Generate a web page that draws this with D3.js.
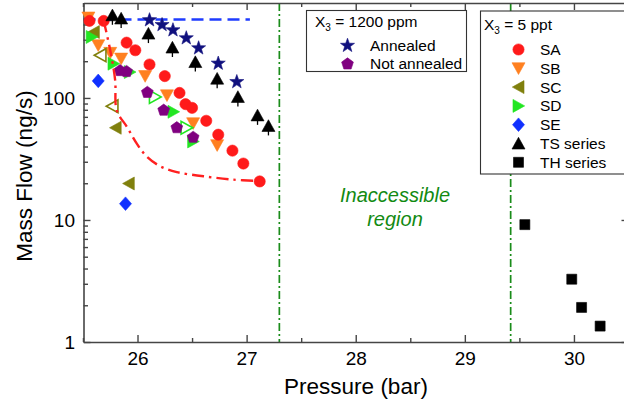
<!DOCTYPE html>
<html>
<head>
<meta charset="utf-8">
<script src="https://cdn.jsdelivr.net/npm/d3@7"></script>
<style>
  html, body { margin: 0; padding: 0; background: #fff; }
  svg { display: block; font-family: "Liberation Sans", Arial, sans-serif; }
</style>
</head>
<body>
<svg id="chart" width="624" height="405"></svg>
<script>
// ---- data: pressure (bar) / mass flow (ng/s) ----
const pressureTicks = [26, 27, 28, 29, 30];
const pressureMinor = [25.5, 26.5, 27.5, 28.5, 29.5, 30.5];
const flowTicks = [1, 10, 100];
const flowMinor = [2, 3, 4, 5, 6, 7, 8, 9, 20, 30, 40, 50, 60, 70, 80, 90, 200, 300, 400, 500];

// X3 = 5 ppt samples
const saP = [25.56, 25.69, 25.90, 25.98, 26.11, 26.25, 26.385, 26.44, 26.50, 26.63, 26.74, 26.87, 26.97, 27.12];
const saV = [428, 428, 284, 246, 188, 151, 110, 89, 83, 65, 50, 37, 29, 20.7];

const sbP = [25.55, 25.64, 25.75, 25.85, 26.07, 26.27, 26.51, 26.73];
const sbV = [456, 270, 234, 210, 151, 105, 62, 41];

const scP = [25.60, 25.80, 25.92];
const scV = [347, 57, 19.9];
const scOpenP = [25.66, 25.77];
const scOpenV = [224, 85.5];

const sdP = [25.58, 25.78, 25.93, 26.33, 26.51];
const sdV = [316, 191, 163, 77, 44];
const sdOpenP = [26.16, 26.45];
const sdOpenV = [102, 57];

const seP = [25.64, 25.89];
const seV = [138, 13.6];

const tsP = [25.77, 25.85, 26.10, 26.32, 26.53, 26.73, 26.92, 27.10, 27.20];
const tsV = [476, 448, 337, 259, 197, 144, 102, 72, 59];

const thP = [29.55, 29.98, 30.07, 30.24];
const thV = [9.16, 3.27, 1.92, 1.35];

// X3 = 1200 ppm samples
const annealedP = [26.11, 26.225, 26.325, 26.447, 26.56, 26.74, 26.91];
const annealedV = [440, 402, 364, 313, 259, 194, 137];
const notAnnealedP = [25.84, 25.90, 26.09, 26.24, 26.36, 26.51];
const notAnnealedV = [169, 166, 112, 80, 57.5, 48];

// reference curves
const annealedLevelP = [25.505, 27.03];
const annealedLevelV = [440, 440];
const fitP = [25.69, 25.75, 25.795, 25.81, 25.903, 25.995, 26.086, 26.21, 26.36, 26.605, 26.88, 27.095];
const fitV = [430, 246, 140, 79, 58, 42, 33, 27.5, 24.7, 22.8, 21.4, 20.9];
const boundaryP = [27.3, 29.42];

const zip = (a, b) => a.map((d, i) => [d, b[i]]);

// ---- marker shapes ----
const S = 6.5;
const shapes = {
  circle: "M5.6,0A5.6,5.6 0 1,1 -5.6,0A5.6,5.6 0 1,1 5.6,0Z",
  down: `M${-S},${-0.85*S}L${S},${-0.85*S}L0,${0.95*S}Z`,
  up: `M0,${-0.95*S}L${S},${0.85*S}L${-S},${0.85*S}Z`,
  left: `M${-0.95*S},0L${0.85*S},${-S}L${0.85*S},${S}Z`,
  right: `M${0.95*S},0L${-0.85*S},${-S}L${-0.85*S},${S}Z`,
  diamond: "M0,-6.8L6,0L0,6.8L-6,0Z",
  square: "M-5,-5H5V5H-5Z",
  star: (() => {
    const pts = [];
    for (let i = 0; i < 10; i++) {
      const r = i % 2 ? 3.0 : 7.4;
      const a = -Math.PI / 2 + i * Math.PI / 5;
      pts.push([r * Math.cos(a), r * Math.sin(a) + 0.6]);
    }
    return "M" + pts.map(p => p.join(",")).join("L") + "Z";
  })(),
  pentagon: (() => {
    const pts = [];
    for (let i = 0; i < 5; i++) {
      const a = -Math.PI / 2 + i * 2 * Math.PI / 5;
      pts.push([6.2 * Math.cos(a), 6.2 * Math.sin(a) + 0.5]);
    }
    return "M" + pts.map(p => p.join(",")).join("L") + "Z";
  })()
};

const colors = {
  SA: "#ff1a1a", SB: "#ff8020", SC: "#80800d", SD: "#22e622", SE: "#1030ff",
  TS: "#000000", TH: "#000000", ann: "#10107e", notAnn: "#800080",
  boundary: "#1a8c1a", level: "#1f3cff", fit: "#ff2020"
};

// ---- layout ----
const svg = d3.select("#chart");
const x = d3.scaleLinear().domain([25.505, 30.5]).range([83.5, 628.5]);
const y = d3.scaleLog().domain([1, 600]).range([342, 3]);
const axisColor = "#454545";
const font = '"Liberation Sans", Arial, sans-serif';

// boundaries of the inaccessible region
svg.append("g").selectAll("line").data(boundaryP).join("line")
  .attr("x1", d => x(d)).attr("x2", d => x(d))
  .attr("y1", y(600)).attr("y2", y(1))
  .attr("stroke", colors.boundary).attr("stroke-width", 1.7)
  .attr("stroke-dasharray", "8,3,2,3");

svg.append("text")
  .attr("x", x((boundaryP[0] + boundaryP[1]) / 2)).attr("y", 201.5)
  .attr("text-anchor", "middle").attr("font-style", "italic")
  .attr("font-size", 20).attr("fill", "#128a12")
  .text("Inaccessible");
svg.append("text")
  .attr("x", x((boundaryP[0] + boundaryP[1]) / 2)).attr("y", 226)
  .attr("text-anchor", "middle").attr("font-style", "italic")
  .attr("font-size", 20).attr("fill", "#128a12")
  .text("region");

// annealed plateau
svg.append("path")
  .datum(zip(annealedLevelP, annealedLevelV))
  .attr("d", d3.line().x(d => x(d[0])).y(d => y(d[1])))
  .attr("fill", "none").attr("stroke", colors.level).attr("stroke-width", 2.6)
  .attr("stroke-dasharray", "12,6");

// ---- axes ----
function styleAxis(g) {
  g.attr("font-family", font);
  g.selectAll(".domain").attr("stroke", axisColor).attr("stroke-width", 1.6);
  g.selectAll(".tick line").attr("stroke", axisColor).attr("stroke-width", 1.4);
  g.selectAll(".tick text").attr("fill", "#000");
}

const [xMin, xMax] = x.domain();

const gB = svg.append("g").attr("transform", `translate(0,${y(1)})`)
  .call(d3.axisBottom(x).tickValues(pressureTicks).tickFormat(d3.format("d"))
    .tickSize(-7).tickSizeOuter(0).tickPadding(9.5))
  .attr("font-size", 19);
styleAxis(gB);
const gBm = svg.append("g").attr("transform", `translate(0,${y(1)})`)
  .call(d3.axisBottom(x).tickValues(pressureMinor).tickFormat("").tickSize(-4).tickSizeOuter(0));
gBm.select(".domain").remove();
styleAxis(gBm);

const gT = svg.append("g").attr("transform", `translate(0,${y(600)})`)
  .call(d3.axisTop(x).tickValues(pressureTicks).tickFormat("").tickSize(-7).tickSizeOuter(0));
styleAxis(gT);
const gTm = svg.append("g").attr("transform", `translate(0,${y(600)})`)
  .call(d3.axisTop(x).tickValues(pressureMinor).tickFormat("").tickSize(-4).tickSizeOuter(0));
gTm.select(".domain").remove();
styleAxis(gTm);

const gL = svg.append("g").attr("transform", `translate(${x(xMin)},0)`)
  .call(d3.axisLeft(y).tickValues(flowTicks).tickFormat(d3.format("d"))
    .tickSize(-7).tickSizeOuter(0).tickPadding(8.5))
  .attr("font-size", 19);
styleAxis(gL);
const gLm = svg.append("g").attr("transform", `translate(${x(xMin)},0)`)
  .call(d3.axisLeft(y).tickValues(flowMinor).tickFormat("").tickSize(-4.5).tickSizeOuter(0));
gLm.select(".domain").remove();
styleAxis(gLm);

const gR = svg.append("g").attr("transform", `translate(${x(xMax)},0)`)
  .call(d3.axisRight(y).tickValues(flowTicks).tickFormat("").tickSize(-7).tickSizeOuter(0));
styleAxis(gR);
const gRm = svg.append("g").attr("transform", `translate(${x(xMax)},0)`)
  .call(d3.axisRight(y).tickValues(flowMinor).tickFormat("").tickSize(-4.5).tickSizeOuter(0));
gRm.select(".domain").remove();
styleAxis(gRm);

svg.append("text")
  .attr("x", 356).attr("y", 394)
  .attr("text-anchor", "middle").attr("font-size", 22.5)
  .text("Pressure (bar)");
svg.append("text")
  .attr("transform", "translate(31.5,176) rotate(-90)")
  .attr("text-anchor", "middle").attr("font-size", 22.5)
  .text("Mass Flow (ng/s)");

// ---- data marks ----
function drawSeries(ps, vs, shape, color, open) {
  svg.append("g").selectAll("path").data(zip(ps, vs)).join("path")
    .attr("transform", d => `translate(${x(d[0])},${y(d[1])})`)
    .attr("d", shapes[shape])
    .attr("fill", open ? "#fff" : color)
    .attr("stroke", color)
    .attr("stroke-width", open ? 1.6 : 0.6);
}

drawSeries(sbP, sbV, "down", colors.SB);
drawSeries(scOpenP, scOpenV, "left", colors.SC, true);
drawSeries(scP, scV, "left", colors.SC);
drawSeries(sdOpenP, sdOpenV, "right", colors.SD, true);
drawSeries(sdP, sdV, "right", colors.SD);
drawSeries(notAnnealedP, notAnnealedV, "pentagon", colors.notAnn);
drawSeries(saP, saV, "circle", colors.SA);
drawSeries(seP, seV, "diamond", colors.SE);

// TS series with its error stems
svg.append("g").selectAll("line").data(zip(tsP, tsV)).join("line")
  .attr("x1", d => x(d[0])).attr("x2", d => x(d[0]))
  .attr("y1", d => y(d[1])).attr("y2", d => y(d[1]) + 9.5)
  .attr("stroke", "#000").attr("stroke-width", 1.3);
drawSeries(tsP, tsV, "up", colors.TS);
drawSeries(thP, thV, "square", colors.TH);
drawSeries(annealedP, annealedV, "star", colors.ann);

// model curve
svg.append("path")
  .datum(zip(fitP, fitV))
  .attr("d", d3.line().x(d => x(d[0])).y(d => y(d[1])).curve(d3.curveCatmullRom.alpha(0.5)))
  .attr("fill", "none").attr("stroke", colors.fit).attr("stroke-width", 2.4)
  .attr("stroke-dasharray", "12,5,2.5,5");

// ---- legends ----
function legendTitle(g, tx, ty, value) {
  const t = g.append("text").attr("x", tx).attr("y", ty).attr("font-size", 15.5);
  t.append("tspan").text("X");
  t.append("tspan").attr("font-size", 10).attr("dy", 4).text("3");
  t.append("tspan").attr("dy", -4).text(" = " + value);
}

const lg1 = svg.append("g");
lg1.append("rect").attr("x", 306.5).attr("y", 10.5).attr("width", 160).attr("height", 61)
  .attr("fill", "#fff").attr("stroke", "#333").attr("stroke-width", 1.1);
legendTitle(lg1, 315, 27, "1200 ppm");
const lg1Items = [
  { label: "Annealed", shape: "star", color: colors.ann },
  { label: "Not annealed", shape: "pentagon", color: colors.notAnn }
];
lg1Items.forEach((it, i) => {
  const cy = 45 + i * 18.5;
  lg1.append("path").attr("transform", `translate(347.5,${cy})`).attr("d", shapes[it.shape])
    .attr("fill", it.color).attr("stroke", it.color).attr("stroke-width", 0.6);
  lg1.append("text").attr("x", 370).attr("y", cy).attr("dy", "0.36em")
    .attr("font-size", 15.5).text(it.label);
});

const lg2 = svg.append("g");
lg2.append("rect").attr("x", 480.5).attr("y", 11).attr("width", 170).attr("height", 163)
  .attr("fill", "#fff").attr("stroke", "#333").attr("stroke-width", 1.1);
legendTitle(lg2, 484, 30, "5 ppt");
const lg2Items = [
  { label: "SA", shape: "circle", color: colors.SA },
  { label: "SB", shape: "down", color: colors.SB },
  { label: "SC", shape: "left", color: colors.SC },
  { label: "SD", shape: "right", color: colors.SD },
  { label: "SE", shape: "diamond", color: colors.SE },
  { label: "TS series", shape: "up", color: colors.TS },
  { label: "TH series", shape: "square", color: colors.TH }
];
lg2Items.forEach((it, i) => {
  const cy = 49.5 + i * 18.8;
  lg2.append("path").attr("transform", `translate(518.5,${cy})`).attr("d", shapes[it.shape])
    .attr("fill", it.color).attr("stroke", it.color).attr("stroke-width", 0.6);
  lg2.append("text").attr("x", 540).attr("y", cy).attr("dy", "0.36em")
    .attr("font-size", 15.5).text(it.label);
});
</script>
</body>
</html>
